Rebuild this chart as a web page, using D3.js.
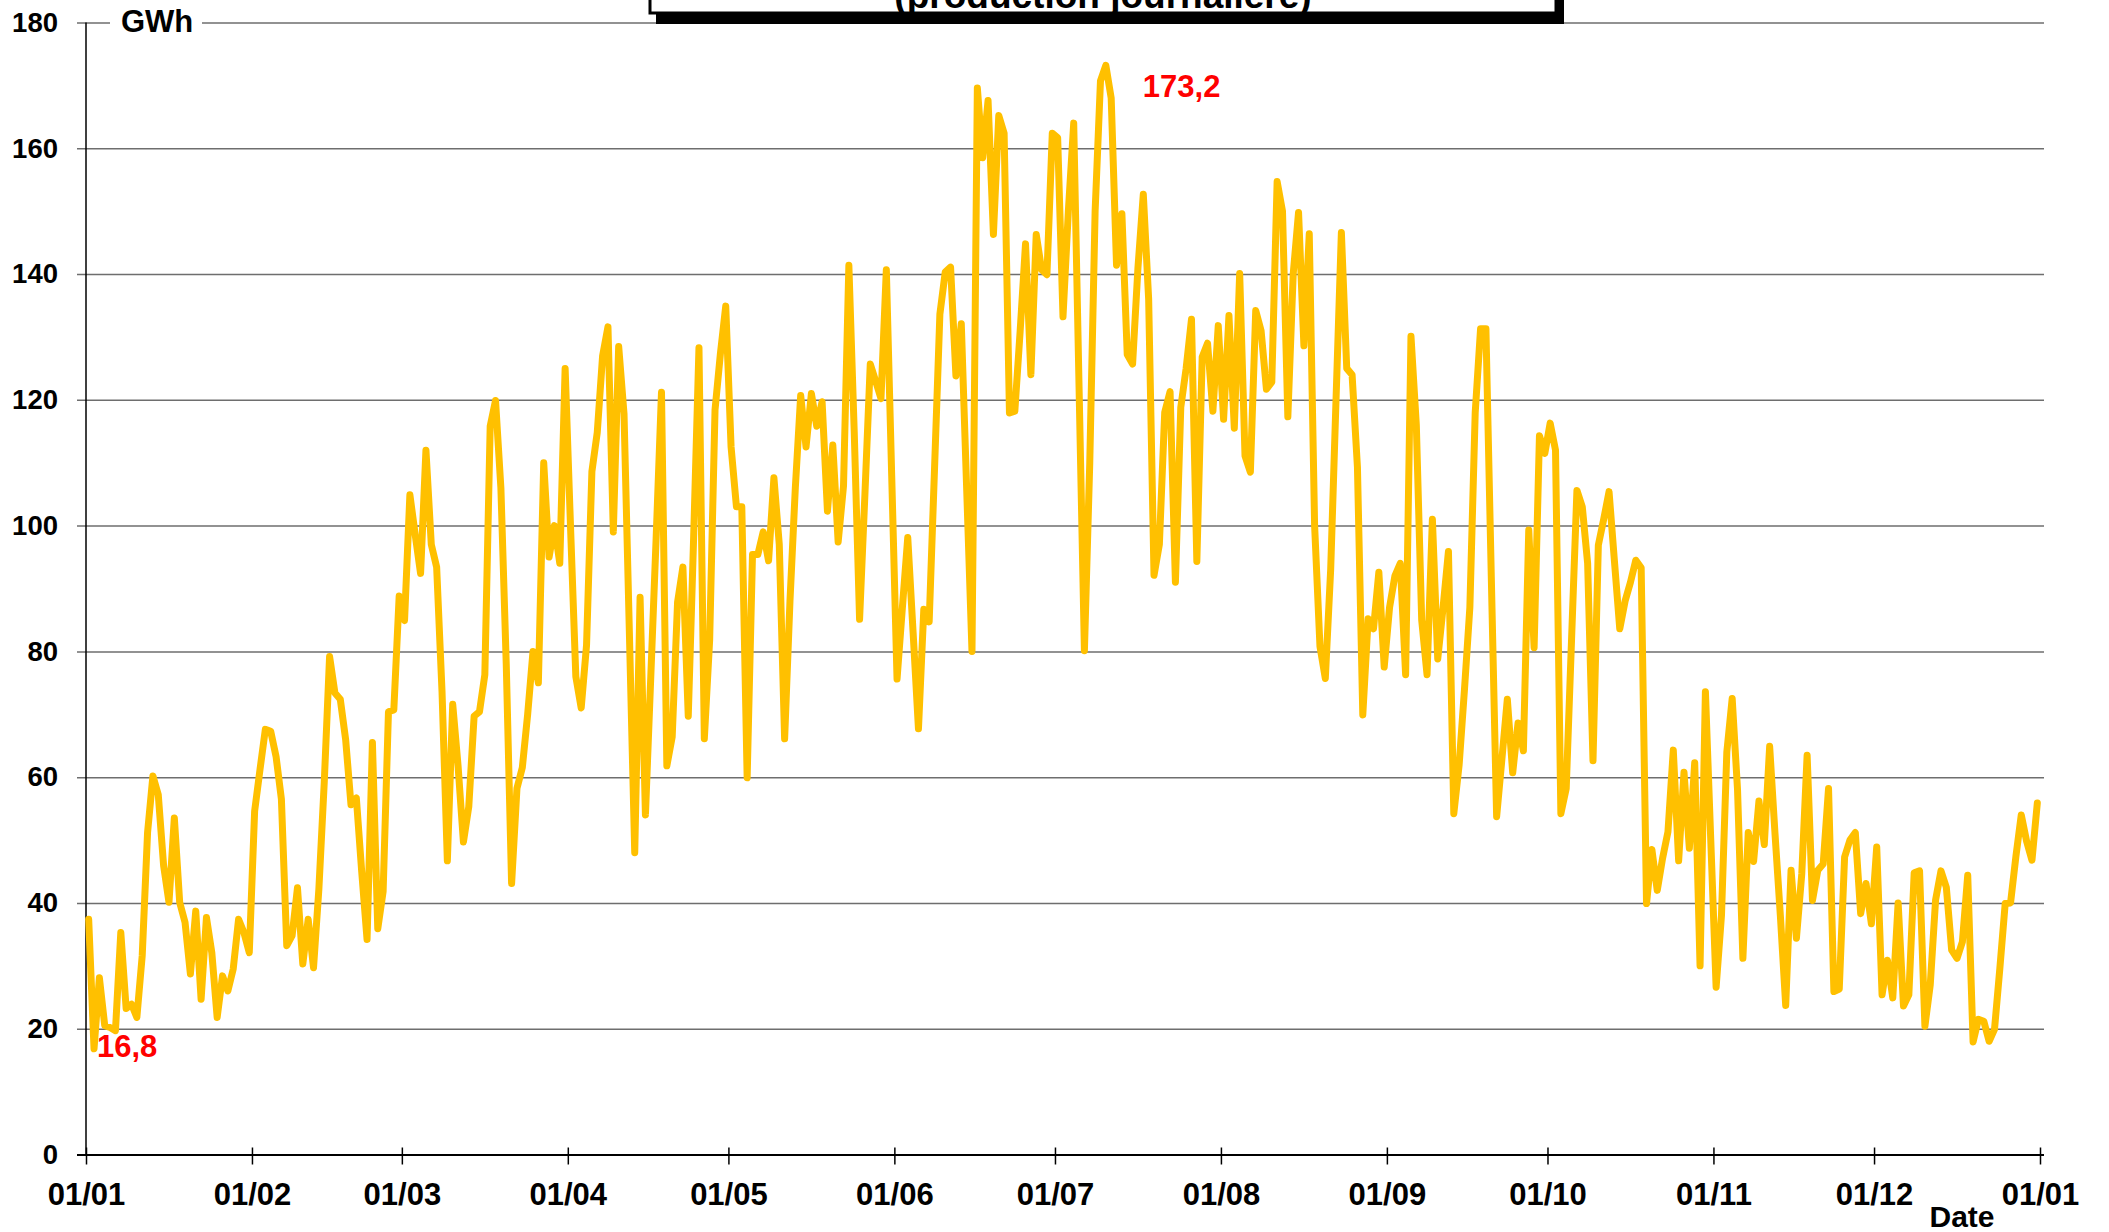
<!DOCTYPE html>
<html lang="fr">
<head>
  <meta charset="UTF-8">
  <title>Production journalière</title>
  <script src="https://d3js.org/d3.v7.min.js"></script>
  <style>
    body { margin: 0; background: #fff; }
    svg { display: block; }
    text { font-family: "Liberation Sans", Arial, sans-serif; font-weight: bold; }
  </style>
</head>
<body>
<svg width="2109" height="1232"></svg>

<script>
// production journalière (GWh), un tableau par mois
const jan = [37.4, 16.8, 28.1, 20.5, 20.2, 19.7, 35.3, 23.2, 23.9, 21.8, 31.6, 51.2, 60.2, 57.2, 45.9, 40.1,
  53.5, 40.1, 36.9, 28.7, 38.7, 24.7, 37.7, 32.1, 21.8, 28.4, 26.0, 29.5, 37.4, 35.3, 32.1];
const feb = [54.6, 61.2, 67.6, 67.3, 63.3, 56.5, 33.2, 34.8, 42.4, 30.3, 37.4, 29.7, 42.2, 59.1, 79.2, 73.4,
  72.4, 66.0, 55.6, 56.7, 45.0, 34.2, 65.5, 35.9, 41.8, 70.4, 70.7, 88.8];
const mar = [84.9, 104.9, 98.5, 92.4, 112.0, 97.0, 93.4, 73.7, 46.7, 71.6, 61.8, 49.7, 55.3, 69.7, 70.4, 76.3,
  115.8, 119.9, 106.0, 78.0, 43.1, 58.2, 61.5, 70.0, 80.0, 75.0, 110.0, 95.0, 100.0, 94.0, 125.0];
const apr = [100.0, 76.0, 71.0, 81.0, 108.6, 114.8, 127.0, 131.6, 99.0, 128.5, 117.8, 83.0, 48.0, 88.6, 54.0,
  76.0, 98.0, 121.2, 61.8, 66.4, 87.8, 93.4, 69.7, 98.0, 128.3, 66.1, 81.9, 118.4, 127.3, 134.9];
const may = [112.5, 103.0, 103.0, 59.9, 95.4, 95.4, 99.0, 94.4, 107.6, 97.0, 66.1, 88.0, 106.0, 120.7, 112.5,
  121.0, 115.8, 119.7, 102.3, 112.8, 97.4, 106.3, 141.4, 115.0, 85.1, 105.0, 125.7, 123.0, 120.2, 140.7, 108.0];
const jun = [75.6, 87.0, 98.1, 83.0, 67.7, 86.7, 84.7, 109.0, 133.6, 140.3, 141.1, 123.8, 132.1, 106.0, 80.0,
  169.6, 158.5, 167.6, 146.3, 165.2, 162.4, 117.9, 118.2, 131.0, 144.8, 124.0, 146.3, 140.7, 139.9, 162.4];
const jul = [161.7, 133.2, 150.0, 164.0, 122.0, 80.1, 110.0, 150.0, 170.7, 173.2, 168.0, 141.4, 149.6, 127.2,
  125.7, 141.0, 152.7, 136.0, 92.1, 97.0, 118.0, 121.3, 91.0, 118.8, 125.0, 132.8, 94.3, 126.8, 129.0, 118.2, 131.8];
const aug = [116.9, 133.4, 115.5, 140.1, 111.1, 108.5, 134.2, 131.0, 121.7, 122.8, 154.7, 150.0, 117.3, 140.0,
  149.8, 128.6, 146.4, 100.0, 80.8, 75.7, 93.0, 120.0, 146.6, 125.0, 124.0, 109.3, 69.9, 85.2, 83.6, 92.6, 77.5];
const sep = [87.0, 92.0, 94.0, 76.3, 130.1, 116.0, 85.0, 76.3, 101.0, 78.8, 87.0, 95.9, 54.2, 62.0, 74.0, 87.0,
  118.0, 131.3, 131.3, 92.0, 53.7, 63.0, 72.4, 60.7, 68.6, 64.2, 99.3, 80.6, 114.3, 111.5];
const oct = [116.3, 112.0, 54.2, 58.2, 82.0, 105.6, 103.0, 94.0, 62.6, 96.9, 101.0, 105.4, 94.4, 83.6, 88.0, 91.0,
  94.5, 93.3, 39.9, 48.5, 42.0, 47.1, 51.3, 64.3, 46.7, 60.8, 48.7, 62.3, 30.0, 73.6, 50.0];
const nov = [26.6, 38.0, 64.0, 72.5, 58.0, 31.2, 51.2, 46.6, 56.2, 49.3, 64.9, 51.0, 38.0, 23.7, 45.2, 34.4,
  44.6, 63.5, 40.4, 45.2, 46.2, 58.2, 25.9, 26.3, 47.3, 50.0, 51.2, 38.3, 43.1, 36.7];
const dec = [48.9, 25.4, 30.9, 24.9, 40.0, 23.6, 25.4, 44.8, 45.1, 20.4, 27.0, 40.5, 45.1, 42.5, 32.5, 31.2,
  33.8, 44.4, 17.9, 21.5, 21.2, 18.0, 19.9, 29.6, 39.9, 40.0, 47.4, 54.0, 49.8, 46.8, 55.9];

// axe des dates : début de chaque mois
const monthLabels = ['01/01', '01/02', '01/03', '01/04', '01/05', '01/06', '01/07',
  '01/08', '01/09', '01/10', '01/11', '01/12', '01/01'];
const monthStarts = [0, 31, 59, 90, 120, 151, 181, 212, 243, 273, 304, 334, 365];
const yTicks = [0, 20, 40, 60, 80, 100, 120, 140, 160, 180];

const values = [].concat(jan, feb, mar, apr, may, jun, jul, aug, sep, oct, nov, dec);
const data = values.map((v, i) => ({ day: i + 0.5, value: v }));

const svg = d3.select('svg');

const x = d3.scaleLinear().domain([0, 365]).range([86, 2040]);
const y = d3.scaleLinear().domain([0, 180]).range([1154.5, 22.5]);

// grille + graduations Y
const yAxis = svg.append('g')
  .attr('transform', 'translate(77,0)')
  .call(d3.axisLeft(y).tickValues(yTicks).tickSize(-(2044 - 77)).tickPadding(19));
yAxis.select('.domain').remove();
yAxis.selectAll('.tick line')
  .attr('stroke', d => d === 0 ? '#000' : '#6e6e6e')
  .attr('stroke-width', d => d === 0 ? 2 : 1.5);
yAxis.selectAll('.tick text')
  .attr('font-size', 27.5)
  .attr('font-family', '"Liberation Sans", Arial, sans-serif')
  .attr('font-weight', 'bold')
  .attr('fill', '#000');

// axe vertical
svg.append('line')
  .attr('x1', x(0)).attr('x2', x(0))
  .attr('y1', y(180)).attr('y2', y(0))
  .attr('stroke', '#000').attr('stroke-width', 1.5);

// axe X
const xAxis = svg.append('g')
  .attr('transform', `translate(0,${y(0)})`)
  .call(d3.axisBottom(x).tickValues(monthStarts).tickFormat((d, i) => monthLabels[i]).tickSize(10));
xAxis.select('.domain').remove();
xAxis.selectAll('.tick line')
  .attr('y1', -7).attr('y2', 10)
  .attr('stroke', '#000').attr('stroke-width', 1.5);
xAxis.selectAll('.tick text')
  .attr('y', 50).attr('dy', 0)
  .attr('font-size', 31)
  .attr('font-family', '"Liberation Sans", Arial, sans-serif')
  .attr('font-weight', 'bold')
  .attr('fill', '#000');

svg.append('text')
  .attr('x', 1962).attr('y', 1227)
  .attr('text-anchor', 'middle')
  .attr('font-size', 30)
  .text('Date');

// unité
svg.append('rect')
  .attr('x', 110).attr('y', 6).attr('width', 92).attr('height', 32)
  .attr('fill', '#fff');
svg.append('text')
  .attr('x', 121).attr('y', 32)
  .attr('font-size', 31)
  .text('GWh');

// courbe
const line = d3.line()
  .x(d => x(d.day))
  .y(d => y(d.value));

svg.append('path')
  .datum(data)
  .attr('d', line)
  .attr('fill', 'none')
  .attr('stroke', '#FFC000')
  .attr('stroke-width', 7)
  .attr('stroke-linejoin', 'round')
  .attr('stroke-linecap', 'round');

// min / max
const fmt = v => d3.format('.1f')(v).replace('.', ',');
const maxPt = data.reduce((a, b) => (b.value > a.value ? b : a));
const minPt = data.reduce((a, b) => (b.value < a.value ? b : a));

svg.append('text')
  .attr('x', x(maxPt.day) + 37).attr('y', y(maxPt.value) + 32)
  .attr('font-size', 31).attr('fill', '#FF0000')
  .text(fmt(maxPt.value));
svg.append('text')
  .attr('x', x(minPt.day) + 3).attr('y', y(minPt.value) + 8)
  .attr('font-size', 31).attr('fill', '#FF0000')
  .text(fmt(minPt.value));

// cadre du titre (coupé en haut, comme l'original)
svg.append('rect')
  .attr('x', 656).attr('y', -40).attr('width', 908).attr('height', 64)
  .attr('fill', '#000');
svg.append('rect')
  .attr('x', 650).attr('y', -40).attr('width', 906).attr('height', 53)
  .attr('fill', '#fff').attr('stroke', '#000').attr('stroke-width', 3);
svg.append('text')
  .attr('x', 1103).attr('y', 8)
  .attr('text-anchor', 'middle')
  .attr('font-size', 37)
  .text('(production journalière)');
</script>

</body>
</html>
